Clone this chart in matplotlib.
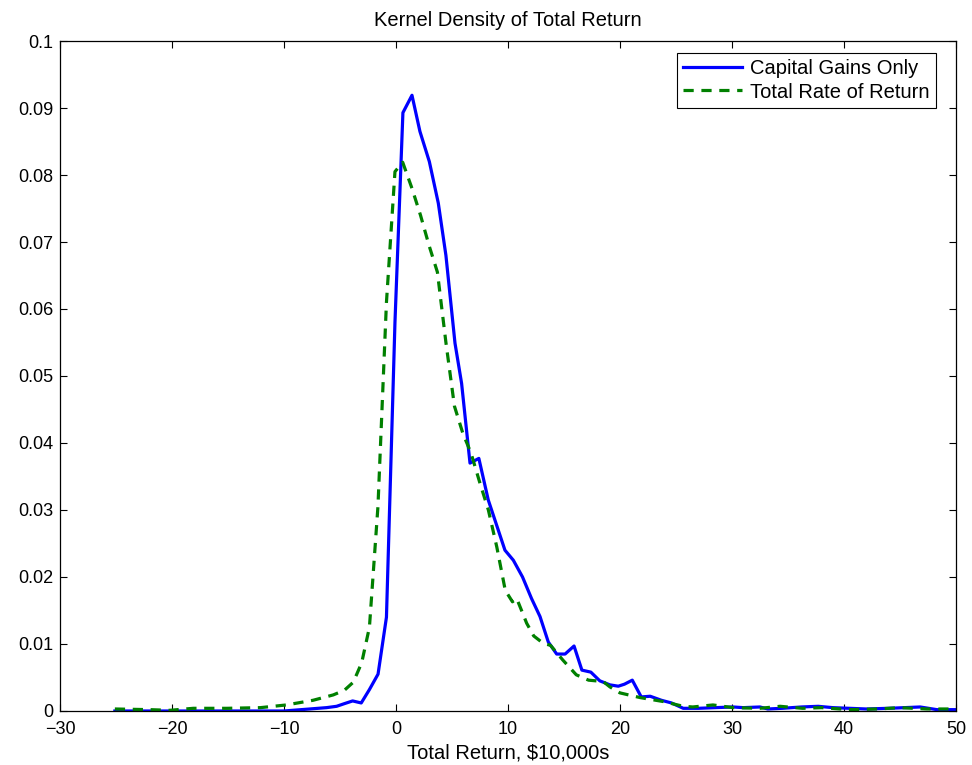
import numpy as np
import matplotlib
matplotlib.use('Agg')
import matplotlib.pyplot as plt

# capital gains only
cap_x = [-25.1, -20, -15, -10, -7.7, -6.2, -5.3, -4.6, -3.87, -3.1, -2.37, -1.6, -0.85, -0.09,
         0.62, 1.43, 2.14, 2.98, 3.78, 4.46, 5.27, 5.86, 6.61, 7.4, 8.24, 9.73, 10.48, 11.3,
         12.1, 12.86, 13.6, 14.35, 15.1, 15.9, 16.6, 17.4, 18.2, 19.1, 19.85, 20.4, 21.1, 21.9,
         22.7, 23.7, 24.6, 25.65, 27.0, 28.5, 30.1, 31.0, 32.5, 33.2, 34.5, 36.2, 37.7, 39.0,
         40.5, 42.0, 44.0, 46.8, 48.3, 50.0]
cap_y = [0.0, 0.0, 0.0, 0.0, 0.0003, 0.0005, 0.0007, 0.0011, 0.0015, 0.0012, 0.0032, 0.0055, 0.0140, 0.0580,
         0.0893, 0.0919, 0.0865, 0.0820, 0.0758, 0.0680, 0.0549, 0.0489, 0.0370, 0.0377, 0.0315, 0.0240, 0.0225, 0.0200,
         0.0168, 0.0141, 0.0103, 0.0085, 0.0085, 0.0097, 0.0061, 0.0058, 0.0045, 0.0039, 0.0037, 0.0040, 0.0046, 0.0021,
         0.0022, 0.0016, 0.0012, 0.0004, 0.0004, 0.0005, 0.0006, 0.0005, 0.0006, 0.0003, 0.0004, 0.0006, 0.0007, 0.0005,
         0.0004, 0.0003, 0.0004, 0.0006, 0.0002, 0.0002]

# total rate of return
tot_x = [-25.1, -22, -20.2, -18.1, -15.1, -12.1, -9.8, -7.4, -5.6, -4.6, -3.81, -3.06, -2.37, -1.61,
         -0.85, -0.09, 0.6, 1.43, 2.19, 2.95, 3.7, 4.46, 5.22, 5.98, 6.7, 7.5, 8.25, 9.0, 9.76,
         10.4, 10.78, 11.67, 12.3, 13.15, 13.8, 14.9, 16.1, 17.2, 18.5, 19.1, 20.0, 21.8, 23.9,
         25.65, 26.5, 28.3, 30.1, 32.5, 34.3, 36.3, 38.0, 40.5, 43.0, 45.0, 47.4, 50.0]
tot_y = [0.0003, 0.0002, 0.0001, 0.0004, 0.0004, 0.0005, 0.0009, 0.0016, 0.0024, 0.0031, 0.0043, 0.0072, 0.0125, 0.0305,
         0.0610, 0.0805, 0.0819, 0.0780, 0.0740, 0.0695, 0.0655, 0.0550, 0.0455, 0.0414, 0.0385, 0.0340, 0.0300, 0.0245, 0.0180,
         0.0163, 0.0168, 0.0131, 0.0112, 0.0101, 0.0098, 0.0076, 0.0054, 0.0046, 0.0044, 0.0036, 0.0027, 0.0020, 0.0014,
         0.0007, 0.0006, 0.0009, 0.0005, 0.0004, 0.0007, 0.0004, 0.0005, 0.0002, 0.0003, 0.0005, 0.0003, 0.0003]

xticks = [-30, -20, -10, 0, 10, 20, 30, 40, 50]
yticks = [0, 0.01, 0.02, 0.03, 0.04, 0.05, 0.06, 0.07, 0.08, 0.09, 0.1]
ytick_labels = ['0', '0.01', '0.02', '0.03', '0.04', '0.05', '0.06', '0.07', '0.08', '0.09', '0.1']

plt.rcParams['font.family'] = ['Liberation Sans', 'DejaVu Sans']
plt.rcParams['font.size'] = 13

fig = plt.figure(figsize=(9.72, 7.65), dpi=100)
ax = fig.add_axes([0.0617, 0.0706, 0.9218, 0.8758])

ax.plot(cap_x, cap_y, color=(0, 0, 1), lw=2.3, label='Capital Gains Only')
ax.plot(tot_x, tot_y, color=(0, 0.5, 0), lw=2.3, ls=(0, (3.2, 2.4)), label='Total Rate of Return')

ax.set_xlim(-30, 50)
ax.set_ylim(0, 0.1)
ax.set_xticks(xticks)
ax.set_xticklabels(['\u2212' + str(-t) if t < 0 else str(t) for t in xticks])
ax.set_yticks(yticks)
ax.set_yticklabels(ytick_labels)
ax.tick_params(direction='in', length=5, width=0.8, top=True, right=True, labelsize=13)
ax.tick_params(axis='y', pad=5)
ax.tick_params(axis='x', pad=7)
for s in ax.spines.values():
    s.set_linewidth(0.9)

ax.set_title('Kernel Density of Total Return', fontsize=14.5, pad=11)
ax.set_xlabel('Total Return, $10,000s', fontsize=14.5, labelpad=4)

leg = ax.legend(loc='upper right', bbox_to_anchor=(0.9777, 0.982), fontsize=14.5, fancybox=False,
                framealpha=1, edgecolor='black', borderaxespad=0, handlelength=2.95, borderpad=0.3,
                labelspacing=0.22, handletextpad=0.4)
leg.get_frame().set_linewidth(0.8)

fig.savefig('out.png', dpi=100)
